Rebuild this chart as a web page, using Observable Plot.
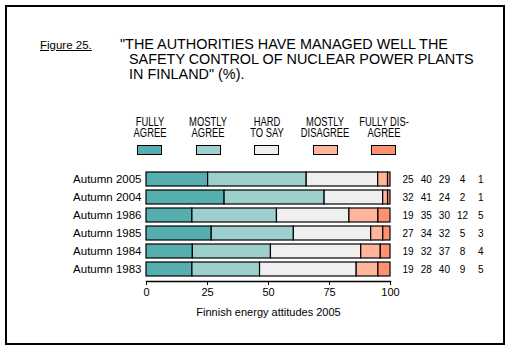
<!DOCTYPE html>
<html>
<head>
<meta charset="utf-8">
<script src="https://cdn.jsdelivr.net/npm/d3@7"></script>
<script src="https://cdn.jsdelivr.net/npm/@observablehq/plot@0.6"></script>
<style>
  html, body { margin: 0; padding: 0; background: #fff; }
  #wrap { position: relative; width: 509px; height: 350px; background: #fff; overflow: hidden;
          font-family: "Liberation Sans", Arial, Helvetica, sans-serif; color: #000; }
  #border { position: absolute; left: 5px; top: 5px; width: 500px; height: 340px;
            border: 2px solid #000; box-sizing: border-box; }
  .t { position: absolute; white-space: nowrap; }
  #fig { left: 40px; top: 37.7px; font-size: 11.5px; line-height: 15px; text-decoration: underline; }
  .title { font-size: 14.4px; line-height: 15px; }
  .leg { position: absolute; top: 117px; width: 80px; text-align: center; font-size: 12px; line-height: 11.3px;
         transform: scaleX(0.78); transform-origin: center; white-space: pre; }
  .sw { position: absolute; top: 145px; width: 25px; height: 10px; border: 1.5px solid #000; box-sizing: border-box; }
  #chart { position: absolute; left: 0; top: 160px; }
</style>
</head>
<body>
<div id="wrap">
  <div id="border"></div>
  <div class="t" id="fig">Figure 25.</div>
  <div class="t title" style="left:120px; top:36.5px;">"THE AUTHORITIES HAVE MANAGED WELL THE</div>
  <div class="t title" style="left:129px; top:51.5px;">SAFETY CONTROL OF NUCLEAR POWER PLANTS</div>
  <div class="t title" style="left:129px; top:66.5px;">IN FINLAND" (%).</div>
  <div id="legend"></div>
  <div id="chart"></div>
</div>
<script>
const years = ["Autumn 2005", "Autumn 2004", "Autumn 1986", "Autumn 1985", "Autumn 1984", "Autumn 1983"];
const categories = ["FULLY AGREE", "MOSTLY AGREE", "HARD TO SAY", "MOSTLY DISAGREE", "FULLY DISAGREE"];
const legendLabels = ["FULLY\nAGREE", "MOSTLY\nAGREE", "HARD\nTO SAY", "MOSTLY\nDISAGREE", "FULLY DIS-\nAGREE"];
const fullyAgree     = [25, 32, 19, 27, 19, 19];
const mostlyAgree    = [40, 41, 35, 34, 32, 28];
const hardToSay      = [29, 24, 30, 32, 37, 40];
const mostlyDisagree = [4, 2, 12, 5, 8, 9];
const fullyDisagree  = [1, 1, 5, 3, 4, 5];
const colors = ["#56aeae", "#9dcfcc", "#efefef", "#ffb49c", "#ff9171"];
const tickValues = [0, 25, 50, 75, 100];
const caption = "Finnish energy attitudes 2005";

const series = [fullyAgree, mostlyAgree, hardToSay, mostlyDisagree, fullyDisagree];
const rows = categories.flatMap((c, i) =>
  series[i].map((v, j) => ({year: years[j], category: c, value: v, col: i})));

// legend
const legend = document.getElementById("legend");
legendLabels.forEach((lab, i) => {
  const cx = 149.5 + i * 58.5;
  const l = document.createElement("div");
  l.className = "leg";
  l.style.left = (cx - 40) + "px";
  l.textContent = lab;
  legend.appendChild(l);
  const s = document.createElement("div");
  s.className = "sw";
  s.style.left = (cx - 12.5) + "px";
  s.style.background = colors[i];
  legend.appendChild(s);
});

const chart = Plot.plot({
  width: 509,
  height: 190,
  marginLeft: 146,
  marginRight: 119,
  marginTop: 7,
  marginBottom: 69,
  style: {fontFamily: "'Liberation Sans', Arial, sans-serif", fontSize: "11px", background: "transparent", overflow: "visible", color: "#000"},
  x: {percent: true, domain: [0, 100], label: null},
  y: {domain: years, padding: 0.2, label: null},
  color: {domain: categories, range: colors},
  marks: [
    Plot.barX(rows, Plot.stackX({x: "value", y: "year", fill: "category", offset: "normalize",
      stroke: "#000", strokeWidth: 1.2})),
    Plot.frame({anchor: "bottom", stroke: "#000", strokeWidth: 1.5}),
    Plot.axisX({ticks: tickValues, tickSize: 4, tickPadding: 3, fontSize: 11, stroke: "#000",
      label: caption, labelAnchor: "center", labelOffset: 34, labelArrow: "none"}),
    Plot.axisY({tickSize: 0, tickPadding: 5, fontSize: 11.5, label: null}),
    ...categories.map((c, i) => Plot.text(rows.filter(r => r.col === i), {
      y: "year", text: "value", frameAnchor: "right", textAnchor: "middle",
      dx: 17.5 + i * 18.2, fontSize: 10, fill: "#000"
    }))
  ]
});
document.getElementById("chart").appendChild(chart);
</script>
</body>
</html>
